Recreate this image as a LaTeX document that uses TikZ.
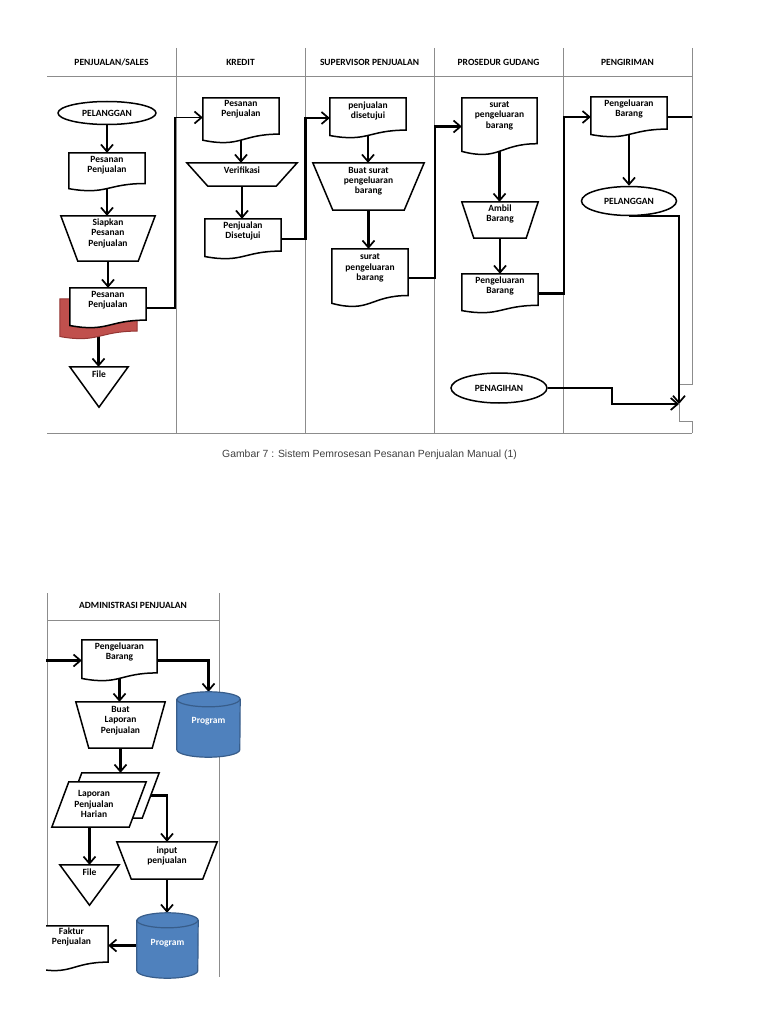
\documentclass[tikz,border=0pt]{standalone}
\usepackage{fontspec}
\setmainfont{Carlito}
\newfontfamily\capfont{Liberation Sans}
\usetikzlibrary{shapes.geometric,arrows.meta,calc}
\pgfdeclarelayer{bg}
\pgfsetlayers{bg,main}
\definecolor{cylblue}{HTML}{4F81BD}
\definecolor{cylline}{HTML}{385D8A}
\definecolor{shred}{HTML}{C0504D}
\definecolor{shredline}{HTML}{943634}
\definecolor{lanegray}{HTML}{8C8C8C}
\tikzset{
  box/.style={draw=none, rectangle, inner sep=0pt},
  shp/.style={draw=black, line width=1.5pt, fill=white, line join=miter},
  txt/.style={font=\bfseries\fontsize{9.5}{10.3}\selectfont, align=center, anchor=north, inner sep=0pt},
  hdr/.style={font=\bfseries\fontsize{9.5}{11}\selectfont, inner sep=0pt},
  ell/.style={ellipse, draw=black, line width=1.5pt, fill=white, inner sep=0pt, font=\bfseries\fontsize{9.5}{10.3}\selectfont},
  conn/.style={line width=2.5pt, -{Straight Barb[length=7pt,width=12pt,line width=1.7pt]}},
  lean/.style={line width=1.8pt},
  stub/.style={line width=2.5pt},
  lane/.style={draw=lanegray, line width=1pt},
  fromdoc/.style={shorten <=-6pt},
  cylbody/.style={fill=cylblue, draw=cylline, line width=1.2pt},
  cylrim/.style={draw=cylline, line width=1.2pt},
  cyltxt/.style={text=white, font=\bfseries\fontsize{9.5}{10.3}\selectfont, inner sep=0pt},
}
\newcommand\docshape[2][]{\draw[shp,#1] (#2.north west) -- (#2.north east) -- ($(#2.north east)!0.8!(#2.south east)$) .. controls ($(#2.north)!0.8!(#2.south)$) and ($(#2.north)!1.107!(#2.south)$) .. ($(#2.north west)!0.934!(#2.south west)$) -- cycle;}
\newcommand\trapshape[3][]{\draw[shp,#1] (#2.north west) -- (#2.north east) -- ($(#2.south east)+(-#3,0)$) -- ($(#2.south west)+(#3,0)$) -- cycle;}
\newcommand\trishape[2][]{\draw[shp,#1] (#2.north west) -- (#2.north east) -- (#2.south) -- cycle;}
\newcommand\parashape[3][]{\draw[shp,#1] ($(#2.north west)+(#3,0)$) -- (#2.north east) -- ($(#2.south east)+(-#3,0)$) -- (#2.south west) -- cycle;}
\newcommand\cylshape[2]{%
  \draw[cylbody] ($(#1.north west)+(0,7.5)$) -- ($(#1.south west)+(0,-7.5)$) arc[start angle=180,end angle=360,x radius=#2pt,y radius=7.5pt] -- ($(#1.north east)+(0,7.5)$) arc[start angle=0,end angle=180,x radius=#2pt,y radius=7.5pt] -- cycle;
  \draw[cylrim] ($(#1.north west)+(0,7.5)$) arc[start angle=180,end angle=360,x radius=#2pt,y radius=7.5pt];}
\begin{document}
\begin{tikzpicture}[x=1pt,y=-1pt]
\useasboundingbox (0,0) rectangle (768,1024);
\begin{pgfonlayer}{bg}
\fill[white] (0,0) rectangle (768,1024);
% swimlanes, page 1
\draw[lane] (47,77) -- (692,77);
\draw[lane] (47,433) -- (692,433);
\foreach \x in {176,305,434,563} \draw[lane] (\x,48) -- (\x,433);
\draw[lane] (692,48) -- (692,384) -- (679,384);
\draw[lane] (679,404) -- (679,421.7) -- (692,421.7) -- (692,433);
% swimlane, page 2
\draw[lane] (47,620) -- (219,620);
\draw[lane] (47,593) -- (47,926);
\draw[lane] (219,593) -- (219,977);
\end{pgfonlayer}

% headers
\node[hdr] (h1) at (111.5,62.5) {PENJUALAN/SALES};
\node[hdr] (h2) at (240.5,62.5) {KREDIT};
\node[hdr] (h3) at (369.5,62.5) {SUPERVISOR PENJUALAN};
\node[hdr] (h4) at (498.5,62.5) {PROSEDUR GUDANG};
\node[hdr] (h5) at (627.5,62.5) {PENGIRIMAN};
\node[hdr] (h6) at (133,605.5) {ADMINISTRASI PENJUALAN};

% ---------- lane 1 : PENJUALAN/SALES
\node[ell, minimum width=98pt, minimum height=23pt] (pel1) at (107,113) {PELANGGAN};
\node[box, minimum width=76pt, minimum height=38pt] (p1) at (107,172) {};
\node[box, minimum width=94pt, minimum height=45pt] (s1) at (108,238.5) {};
\node[box, minimum width=77pt, minimum height=40pt] (p4r) at (98.5,319) {};
\node[box, minimum width=76pt, minimum height=40pt] (p4) at (108,308) {};
\node[box, minimum width=58pt, minimum height=40pt] (f1) at (99,387) {};
\docshape{p1}
\trapshape{s1}{17}
\docshape[fill=shred, draw=shredline, line width=1pt]{p4r}
\docshape{p4}
\trishape{f1}
\node[txt] (p1t) at ($(p1.north)+(0,3.5)$) {Pesanan\\Penjualan};
\node[txt] (s1t) at ($(s1.north)+(0,3)$) {Siapkan\\Pesanan\\Penjualan};
\node[txt] (p4t) at ($(p4.north)+(0,3.5)$) {Pesanan\\Penjualan};
\node[txt] (f1t) at ($(f1.north)+(0,3.5)$) {File};

% ---------- lane 2 : KREDIT
\node[box, minimum width=76pt, minimum height=45pt] (p5) at (241,120.5) {};
\node[box, minimum width=110pt, minimum height=23pt] (v1) at (242,174.5) {};
\node[box, minimum width=76pt, minimum height=40pt] (p6) at (243,239) {};
\docshape{p5}
\trapshape{v1}{21}
\docshape{p6}
\node[txt] (p5t) at ($(p5.north)+(0,2.5)$) {Pesanan\\Penjualan};
\node[txt] (v1t) at ($(v1.north)+(0,4)$) {Verifikasi};
\node[txt] (p6t) at ($(p6.north)+(0,3)$) {Penjualan\\Disetujui};

% ---------- lane 3 : SUPERVISOR PENJUALAN
\node[box, minimum width=76pt, minimum height=40pt] (p7) at (368,118) {};
\node[box, minimum width=111pt, minimum height=47pt] (s2) at (368.5,186.5) {};
\node[box, minimum width=76pt, minimum height=58pt] (p8) at (370,278) {};
\docshape{p7}
\trapshape{s2}{20}
\docshape{p8}
\node[txt] (p7t) at ($(p7.north)+(0,3.5)$) {penjualan\\disetujui};
\node[txt] (s2t) at ($(s2.north)+(0,4)$) {Buat surat\\pengeluaran\\barang};
\node[txt] (p8t) at ($(p8.north)+(0,5)$) {surat\\pengeluaran\\barang};

% ---------- lane 4 : PROSEDUR GUDANG
\node[box, minimum width=75pt, minimum height=57pt] (p9) at (499.5,126.5) {};
\node[box, minimum width=76pt, minimum height=36pt] (s3) at (500,220) {};
\node[box, minimum width=76pt, minimum height=39pt] (p9b) at (500,293.5) {};
\node[ell, minimum width=96pt, minimum height=30pt] (pen) at (499,388) {PENAGIHAN};
\docshape{p9}
\trapshape{s3}{12}
\docshape{p9b}
\node[txt] (p9t) at ($(p9.north)+(0,3.5)$) {surat\\pengeluaran\\barang};
\node[txt] (s3t) at ($(s3.north)+(0,2.5)$) {Ambil\\Barang};
\node[txt] (p9bt) at ($(p9b.north)+(0,2.5)$) {Pengeluaran\\Barang};

% ---------- lane 5 : PENGIRIMAN
\node[box, minimum width=76pt, minimum height=40pt] (p10) at (629,117) {};
\node[ell, minimum width=95pt, minimum height=29pt] (pel2) at (629,201) {PELANGGAN};
\docshape{p10}
\node[txt] (p10t) at ($(p10.north)+(0,3)$) {Pengeluaran\\Barang};
\coordinate (stubend) at (692,117);
\coordinate (j1) at (679,404);
\coordinate (pbend) at (612,396);

% caption
\node[font=\capfont\fontsize{10.4}{12}\selectfont, text=black!75, inner sep=0pt] (cap) at (369.5,455) {Gambar 7 : Sistem Pemrosesan Pesanan Penjualan Manual (1)};

% ---------- page 2 : ADMINISTRASI PENJUALAN
\node[box, minimum width=75pt, minimum height=41pt] (pb) at (119.5,660.5) {};
\node[box, minimum width=63pt, minimum height=65pt] (prog1) at (208.5,724.5) {};
\node[box, minimum width=89pt, minimum height=46pt] (s4) at (120.5,725) {};
\node[box, minimum width=94pt, minimum height=45pt] (lapb) at (112,795.5) {};
\node[box, minimum width=94pt, minimum height=45pt] (lap) at (99,804.5) {};
\node[box, minimum width=59pt, minimum height=40pt] (f2) at (89.5,885) {};
\node[box, minimum width=100pt, minimum height=37pt] (inp) at (167,860.5) {};
\node[box, minimum width=61pt, minimum height=65pt] (prog2) at (167.5,945.5) {};
\node[box, minimum width=73pt, minimum height=45pt] (fak) at (71.5,948.5) {};
\docshape{pb}
\cylshape{prog1}{31.5}
\trapshape{s4}{13}
\parashape{lapb}{17}
\parashape{lap}{17}
\trishape{f2}
\trapshape{inp}{14.5}
\cylshape{prog2}{30.5}
\begin{scope}
\clip (46,900) rectangle (130,990);
\docshape{fak}
\end{scope}
\node[txt] (pbt) at ($(pb.north)+(0,2.5)$) {Pengeluaran\\Barang};
\node[cyltxt] (prog1t) at ($(prog1.center)+(0,-3.5)$) {Program};
\node[txt] (s4t) at ($(s4.north)+(0,4.5)$) {Buat\\Laporan\\Penjualan};
\node[txt, anchor=center] (lapt) at (94,804) {Laporan\\Penjualan\\Harian};
\node[txt] (f2t) at ($(f2.north)+(0,3.5)$) {File};
\node[txt] (inpt) at ($(inp.north)+(0,4.5)$) {input\\penjualan};
\node[cyltxt] (prog2t) at ($(prog2.center)+(0,-2)$) {Program};
\node[txt] (fakt) at ($(fak.north)+(0,2)$) {Faktur\\Penjualan};
\coordinate (in1) at (46,660.5);

% ---------- connectors
\begin{pgfonlayer}{bg}
\draw[conn] (pel1.south) -- (pel1.south |- p1.north);
\draw[conn,fromdoc] (p1.south) -- (p1.south |- s1.north);
\draw[conn] (s1.south) -- (s1.south |- p4.north);
\draw[conn,lean] (p4.east) -- ++(29,0) |- ($(p5.west)+(0,-3)$);
\draw[conn,fromdoc] (p4r.south) -- (p4r.south |- f1.north);
\draw[conn,fromdoc] (p5.south) -- (p5.south |- v1.north);
\draw[conn] (v1.south) -- (v1.south |- p6.north);
\draw[conn] (p6.east) -- ++(24.5,0) |- (p7.west);
\draw[conn,fromdoc] (p7.south) -- (p7.south |- s2.north);
\draw[conn] (s2.south) -- (s2.south |- p8.north);
\draw[conn] (p8.east) -- ++(27,0) |- (p9.west);
\draw[conn,fromdoc] (p9.south) -- (p9.south |- s3.north);
\draw[conn] (s3.south) -- (s3.south |- p9b.north);
\draw[conn] (p9b.east) -- ++(26,0) |- (p10.west);
\draw[stub] (p10.east) -- (stubend);
\draw[conn,fromdoc] (p10.south) -- (p10.south |- pel2.north);
\draw[conn] (pel2.south) -| (j1);
\draw[conn,lean] (pen.east) -| (pbend) |- (j1);
\draw[conn] (in1) -- (pb.west);
\draw[conn] (pb.east) -| (prog1.north);
\draw[conn,fromdoc] (pb.south) -- (pb.south |- s4.north);
\draw[conn] (s4.south) -- (s4.south |- lapb.north);
\draw[conn] (f2.north |- lap.south) -- (f2.north);
\draw[conn] (lapb.center) -| (inp.north);
\draw[conn] (inp.south) -- (inp.south |- prog2.north);
\draw[conn] (prog2.west) -- (prog2.west -| fak.east);
\end{pgfonlayer}
\end{tikzpicture}
\end{document}
